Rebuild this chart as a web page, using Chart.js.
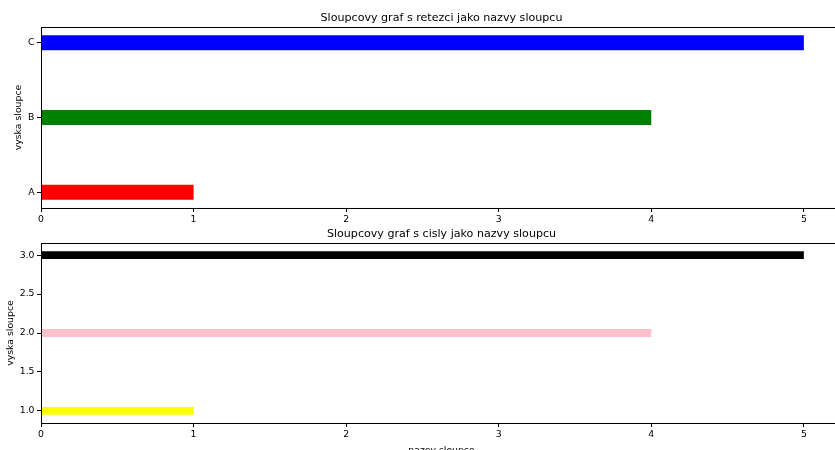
<!DOCTYPE html>
<html>
<head>
<meta charset="utf-8">
<script src="https://cdn.jsdelivr.net/npm/chart.js@4/dist/chart.umd.min.js"></script>
<style>
  html, body { margin: 0; padding: 0; background: #fff; overflow: hidden; width: 835px; height: 450px; }
  .box { position: absolute; left: 0; width: 883px; }
  #top { top: 0; height: 226px; }
  #bottom { top: 225px; height: 240px; }
</style>
</head>
<body>
<div class="box" id="top"><canvas id="graf1"></canvas></div>
<div class="box" id="bottom"><canvas id="graf2"></canvas></div>
<script>
// data z obrazku
var nazvy1 = ['A', 'B', 'C'];
var hodnoty1 = [1, 4, 5];
var barvy1 = ['red', 'green', 'blue'];

var nazvy2 = [1, 2, 3];
var hodnoty2 = [1, 4, 5];
var barvy2 = ['yellow', 'pink', 'black'];

var xTicks = [0, 1, 2, 3, 4, 5];
var yTicks2 = [1.0, 1.5, 2.0, 2.5, 3.0];

Chart.defaults.font.family = 'DejaVu Sans';
Chart.defaults.color = '#000';
Chart.defaults.animation = false;

var pismoNadpis = { size: 11.1, weight: 'normal' };
var pismo = { size: 9.3 };

// ramecek okolo grafu (jako matplotlib spines)
var ramecek = {
	id: 'ramecek',
	afterDraw: function(chart) {
		var a = chart.chartArea, ctx = chart.ctx;
		ctx.save();
		ctx.strokeStyle = '#000';
		ctx.lineWidth = 1;
		ctx.strokeRect(Math.round(a.left) + 0.5, Math.round(a.top) + 0.5, a.right - a.left, a.bottom - a.top);
		ctx.restore();
	}
};

function osaX(vyska, titulek) {
	return {
		type: 'linear',
		min: 0,
		max: 5.25,
		grid: { display: true, drawOnChartArea: false, drawTicks: true, tickLength: 4, color: '#000' },
		border: { color: '#000' },
		ticks: { font: pismo, padding: 2.5, maxRotation: 0 },
		afterBuildTicks: function(s) { s.ticks = xTicks.map(function(v) { return { value: v }; }); },
		afterFit: function(s) { s.height = vyska; },
		title: titulek
	};
}

function osaY(min, max, hodnotyTicku, popisek, odsazeni) {
	return {
		type: 'linear',
		min: min,
		max: max,
		offset: false,
		grid: { display: true, offset: false, drawOnChartArea: false, drawTicks: true, tickLength: 4, color: '#000' },
		border: { color: '#000' },
		ticks: { font: pismo, padding: 2.5, callback: popisek },
		afterBuildTicks: function(s) { s.ticks = hodnotyTicku.map(function(v) { return { value: v }; }); },
		afterFit: function(s) { s.width = 41; },
		title: { display: true, text: 'vyska sloupce', font: pismo, padding: { top: odsazeni } }
	};
}

// prazdna osa vpravo, aby byl nadpis na stredu grafu
var prazdnaOsa = {
	type: 'linear',
	position: 'right',
	display: true,
	grid: { display: false },
	border: { display: false },
	ticks: { display: false },
	afterFit: function(s) { s.width = 41; }
};

var data1 = [];
for (var i in hodnoty1) {
	data1.push({ x: hodnoty1[i], y: Number(i) });
}

new Chart(document.getElementById('graf1'), {
	type: 'bar',
	data: {
		datasets: [{
			data: data1,
			backgroundColor: barvy1,
			borderWidth: 0,
			barPercentage: 0.2,
			categoryPercentage: 1
		}]
	},
	options: {
		indexAxis: 'y',
		responsive: true,
		maintainAspectRatio: false,
		layout: { padding: 0 },
		plugins: {
			legend: { display: false },
			tooltip: { enabled: false },
			title: {
				display: true,
				text: 'Sloupcovy graf s retezci jako nazvy sloupcu',
				font: pismoNadpis,
				padding: { top: 11.3, bottom: 2.4 }
			}
		},
		scales: {
			x: osaX(18, { display: false }),
			y: osaY(-0.21, 2.21, [0, 1, 2], function(v) { return nazvy1[v]; }, 13.4),
			y2: prazdnaOsa
		}
	},
	plugins: [ramecek]
});

var data2 = [];
for (var k in hodnoty2) {
	data2.push({ x: hodnoty2[k], y: nazvy2[k] });
}

// sirka sloupce se pocita z mezery mezi ticky (0.5), proto 0.2 => 0.1 jednotky
new Chart(document.getElementById('graf2'), {
	type: 'bar',
	data: {
		datasets: [{
			data: data2,
			backgroundColor: barvy2,
			borderWidth: 0,
			barPercentage: 0.2,
			categoryPercentage: 1
		}]
	},
	options: {
		indexAxis: 'y',
		responsive: true,
		maintainAspectRatio: false,
		layout: { padding: 0 },
		plugins: {
			legend: { display: false },
			tooltip: { enabled: false },
			title: {
				display: true,
				text: 'Sloupcovy graf s cisly jako nazvy sloupcu',
				font: pismoNadpis,
				padding: { top: 2.35, bottom: 2.35 }
			}
		},
		scales: {
			x: osaX(42, { display: true, text: 'nazev sloupce', font: pismo, padding: { bottom: 9 } }),
			y: osaY(0.845, 3.155, yTicks2, function(v) { return Number(v).toFixed(1); }, 5.4),
			y2: prazdnaOsa
		}
	},
	plugins: [ramecek]
});
</script>
</body>
</html>
